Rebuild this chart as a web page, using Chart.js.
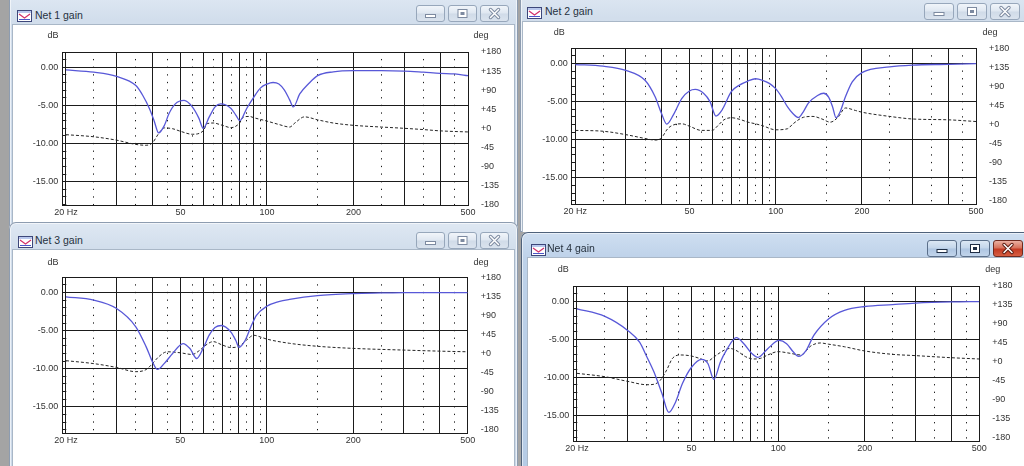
<!DOCTYPE html>
<html>
<head>
<meta charset="utf-8">
<title>Net gain</title>
<script src="https://cdn.jsdelivr.net/npm/chart.js@4.4.1/dist/chart.umd.min.js"></script>
<style>
  html,body{margin:0;padding:0;}
  body{width:1024px;height:466px;overflow:hidden;position:relative;background:#a4a4a4;}
  .win{position:absolute;border-radius:7px 7px 0 0;overflow:hidden;
       background:linear-gradient(to bottom,#dfe8f3 0,#d2deec 26px,#cbd8e8 100%);
       box-shadow:inset 0 0 0 1px #8d9cb0,inset 0 0 0 2px rgba(255,255,255,0.6);}
  .win.active{background:linear-gradient(to bottom,#cfdff1 0,#bed2e9 26px,#b5cbe5 100%);
       box-shadow:inset 0 0 0 1px #4f627b,inset 0 0 0 2px rgba(255,255,255,0.55);}
  .content{position:absolute;background:#fff;box-shadow:0 0 0 1px #a9b7c7;}
  .title{position:absolute;font:10.5px "Liberation Sans",Arial,sans-serif;color:#26313e;white-space:nowrap;line-height:14px;height:14px;}
  .icon{position:absolute;width:15px;height:12px;}
  .btn{position:absolute;height:17px;box-sizing:border-box;border:1px solid #97a7bb;border-radius:3px;
       background:linear-gradient(to bottom,#f1f5fa 0,#dfe7f1 48%,#d0dbe8 52%,#dae3ee 100%);}
  .active .btn{border-color:#5b6f8a;background:linear-gradient(to bottom,#dce7f4 0,#c3d5ea 48%,#aec5e1 52%,#c2d5eb 100%);}
  .active .btn.close{border-color:#6f2a1f;background:linear-gradient(to bottom,#eab0a2 0,#d7735d 45%,#c43b24 55%,#d65e42 100%);}
  .btn svg{position:absolute;left:-1px;top:-1px;}
  .axlbl{position:absolute;font:9px "Liberation Sans",Arial,sans-serif;color:#333;transform:translate(-50%,-50%);white-space:nowrap;}
  canvas{position:absolute;}
</style>
</head>
<body>
<script>
// ---------------- data ----------------
// Net 1
const net1Freq  = [20,25,30,35,37,39,40.5,42,44,45.6,48,51.5,55,58,60,63,66,69,75,78,80.5,85,90,95,100,105,110,115,120,123.5,130,140,150,170,200,250,300,350,400,450,500];
const net1Gain  = [-0.35,-0.65,-1.2,-2.4,-3.7,-5.4,-7.0,-8.6,-7.6,-6.1,-4.8,-4.35,-5.2,-6.7,-8.0,-6.5,-5.2,-4.8,-5.4,-6.3,-7.0,-5.4,-3.9,-2.7,-2.2,-2.0,-2.2,-3.0,-4.3,-5.2,-3.5,-2.1,-1.1,-0.6,-0.45,-0.45,-0.5,-0.65,-0.8,-0.87,-1.1];
const net1PhaseFreq = [20,25,30,35,38,40,42,44,47,50,55,60,62,65,70,75,80,83,87,90,100,110,120,125,135,150,170,200,250,300,350,400,500];
const net1Phase = [-15,-20,-28,-38,-40,-34,-12.5,1,-1,-7,-14,-6,11,12.5,7,1.5,11,27,28,25,17,9,3,12.5,27,20,12.5,7,3,0,-3,-6,-8.6];
// Net 2
const net2Freq  = [20,25,30,35,38,40,41.7,44,47,50,52.4,56,59,61.9,65,70,75,80,85,90,95,100,105,110,115,120,125,130,140,147,153,158,162.4,168,175,185,200,250,300,400,500];
const net2Gain  = [-0.13,-0.35,-0.9,-2.2,-4.4,-6.6,-7.95,-6.7,-4.6,-3.6,-3.4,-3.9,-5.0,-6.9,-6.1,-3.7,-2.8,-2.3,-2.0,-2.2,-2.6,-3.3,-4.4,-5.7,-6.6,-7.1,-6.3,-5.2,-4.2,-3.9,-4.4,-5.7,-7.1,-6.3,-4.4,-2.4,-1.2,-0.45,-0.2,-0.1,0];
const net2PhaseFreq = [20,25,30,35,38,40,42,44,47,50,55,60,63,66,70,75,80,85,90,100,110,115,125,135,145,155,165,175,190,200,250,300,400,500];
const net2Phase = [-14,-16,-24,-33,-37,-31,-10,-1,1.6,-4,-14,-14,-2,11,16,12,5.5,1.6,-3,-12.6,-10,1.6,17,19,13,5.5,17,39,33,29,19,13,11,7];
// Net 3
const net3Freq  = [20,25,30,35,38,40,41.6,44,47,51.1,54,57,60,63,66,69.5,75,78,80.1,84,88,92,100,110,120,150,200,250,300,500];
const net3Gain  = [-0.57,-1.0,-2.1,-4.5,-7.1,-9.1,-10.1,-9.3,-8.0,-6.7,-7.35,-8.66,-7.35,-5.6,-4.6,-4.33,-5.2,-6.3,-7.2,-6.3,-4.5,-3.0,-1.8,-1.2,-0.9,-0.4,-0.13,-0.05,0,0];
const net3PhaseFreq = [20,25,30,35,38,40,42,45,50,55,58,62,65,70,75,80,85,90,95,100,120,150,200,300,400,500];
const net3Phase = [-17,-24,-33,-43,-38,-24,-8,4,1.6,-2.4,6,22,28,20,14,17,31.6,43,39,34,24,17,12,8,5.5,4];
// Net 4
const net4Freq  = [20,25,30,33,35,37,39.5,41.7,44,46.5,50,54.2,57,59.8,63,66,71.6,76,81,85.1,92,100.8,107,113,117.7,125,133,150,170,200,250,300,400,500];
const net4Gain  = [-1.0,-2.0,-3.85,-5.4,-7.35,-9.3,-12.2,-14.65,-13.3,-10.85,-8.7,-7.65,-8.2,-10.3,-8.0,-6.5,-4.8,-5.6,-6.9,-7.4,-6.25,-5.16,-5.6,-6.7,-7.26,-6.5,-4.5,-2.3,-1.2,-0.7,-0.45,-0.26,-0.1,-0.05];
const net4PhaseFreq = [20,25,30,35,37,39,41,43,46,50,53,57,60,65,68,72,77,82,87,92,100,110,120,130,140,150,170,200,250,300,400,500];
const net4Phase = [-27,-35,-46,-54,-53,-43,-19,9,16.5,14,9,2.4,12.6,28,32,26,12.6,7,8.7,16.5,24.4,20.5,16.5,38,45,42,36,26,18,15,10,7];

// ---------------- axes ----------------
const gridFreqs = [20,25,30,35,40,45,50,55,60,65,70,75,80,85,90,95,100,150,200,250,300,350,400,450,500];
const solidFreqs = [20,30,40,50,60,70,80,90,100,200,300,400,500];
const freqTickValues = [20,50,100,200,500];
const freqTickLabels = ['20 Hz','50','100','200','500'];
const dbTicks = [2,1,0,-1,-2,-3,-4,-5,-6,-7,-8,-9,-10,-11,-12,-13,-14,-15,-16,-17,-18];
const dbLabelTicks = [0,-5,-10,-15];
const degTicks = [180,135,90,45,0,-45,-90,-135,-180];
const degTickLabels = ['+180','+135','+90','+45','+0','-45','-90','-135','-180'];
const freqMin = 19.42, freqMax = 500, dbMax = 2, degMax = 180, degSpanDb = 20;

// ---------------- layout (page coordinates) ----------------
const windows = [
  {title:'Net 1 gain', active:false, box:[9,-6,509,240], content:[13,25,501,205], titlePos:[35,15], iconPos:[17,8],
   btnY:5, btnX:[416,448,480], btnW:29, plot:[62.3,52,468,205], dbMin:-18.05, dbPos:[53,35], degPos:[481,35],
   series:[net1Freq,net1Gain,net1PhaseFreq,net1Phase]},
  {title:'Net 3 gain', active:false, box:[9,222,509,260], content:[13,250,501,220], titlePos:[35,240], iconPos:[18,234],
   btnY:232, btnX:[416,448,480], btnW:29, plot:[62.3,277.3,467.7,433.3], dbMin:-18.48, dbPos:[53,261.7], degPos:[481,261.7],
   series:[net3Freq,net3Gain,net3PhaseFreq,net3Phase]},
  {title:'Net 2 gain', active:false, box:[520,-8,520,240], content:[523,22,507,210], titlePos:[545,11], iconPos:[527,5],
   btnY:3, btnX:[924,957,990], btnW:30, plot:[571.7,48.3,976,204], dbMin:-18.44, dbPos:[559.3,32], degPos:[990,32],
   series:[net2Freq,net2Gain,net2PhaseFreq,net2Phase]},
  {title:'Net 4 gain', active:true, box:[521,232,520,260], content:[528,258,500,215], titlePos:[547,248], iconPos:[531,242],
   btnY:240, btnX:[927,960,993], btnW:30, plot:[573.3,286,979.3,441], dbMin:-18.41, dbPos:[563.3,269.3], degPos:[992.7,269.3],
   series:[net4Freq,net4Gain,net4PhaseFreq,net4Phase]}
];

const LINE = '#1b1b1b';
const TXT = '#333';
Chart.defaults.font.family = '"Liberation Sans", Arial, sans-serif';
Chart.defaults.font.size = 9;
Chart.defaults.color = TXT;

function iconSvg(){
  return '<svg width="15" height="12" viewBox="0 0 15 12"><rect x="0.5" y="0.5" width="14" height="11" fill="#fff" stroke="#3d477a"/>'+
    '<rect x="1" y="1" width="13" height="2" fill="#b9c8ee"/>'+
    '<polyline points="2,4 7.5,8 13,4" fill="none" stroke="#d2306a" stroke-width="1.2"/>'+
    '<line x1="2" y1="9.5" x2="13" y2="9.5" stroke="#4a56c8" stroke-width="1"/></svg>';
}
function btnSvg(kind, w, active){
  const h = 17, c = w/2;
  const out = active ? (kind==='close' ? '#5a1a10' : '#1f2e45') : '#7d8aa0';
  let s = '<svg width="'+w+'" height="'+h+'" viewBox="0 0 '+w+' '+h+'">';
  if (kind==='min') s += '<rect x="'+(c-5)+'" y="9.5" width="10" height="3" fill="#fff" stroke="'+out+'"/>';
  if (kind==='max') s += '<rect x="'+(c-4.5)+'" y="4.5" width="9" height="8" fill="#fff" stroke="'+out+'"/><rect x="'+(c-2)+'" y="7" width="4" height="3" fill="'+out+'"/>';
  if (kind==='close'){
    s += '<path d="M'+(c-4)+',4.5 L'+(c+4)+',12.5 M'+(c+4)+',4.5 L'+(c-4)+',12.5" stroke="'+out+'" stroke-width="3.4" stroke-linecap="round"/>';
    s += '<path d="M'+(c-4)+',4.5 L'+(c+4)+',12.5 M'+(c+4)+',4.5 L'+(c-4)+',12.5" stroke="#fff" stroke-width="1.5" stroke-linecap="round"/>';
  }
  return s + '</svg>';
}

function makeWindow(w){
  const [bx, by, bw, bh] = w.box;
  const win = document.createElement('div');
  win.className = 'win' + (w.active ? ' active' : '');
  Object.assign(win.style, {left:bx+'px', top:by+'px', width:bw+'px', height:bh+'px'});
  document.body.appendChild(win);
  const rel = (x, y) => [x - bx, y - by];

  const ic = document.createElement('div');
  ic.className = 'icon';
  const [ix, iy] = rel(w.iconPos[0], w.iconPos[1]);
  ic.style.left = ix+'px'; ic.style.top = iy+'px';
  ic.innerHTML = iconSvg();
  win.appendChild(ic);

  const t = document.createElement('div');
  t.className = 'title';
  const [tx, ty] = rel(w.titlePos[0], w.titlePos[1]);
  t.style.left = tx+'px'; t.style.top = (ty-7)+'px';
  t.textContent = w.title;
  win.appendChild(t);

  ['min','max','close'].forEach((k, i) => {
    const b = document.createElement('div');
    b.className = 'btn' + (k==='close' ? ' close' : '');
    const [bxr, byr] = rel(w.btnX[i], w.btnY);
    Object.assign(b.style, {left:bxr+'px', top:byr+'px', width:w.btnW+'px'});
    b.innerHTML = btnSvg(k, w.btnW, w.active);
    win.appendChild(b);
  });

  const [cx, cy, cw, ch] = w.content;
  const content = document.createElement('div');
  content.className = 'content';
  const [cxr, cyr] = rel(cx, cy);
  Object.assign(content.style, {left:cxr+'px', top:cyr+'px', width:cw+'px', height:ch+'px'});
  win.appendChild(content);

  const canvas = document.createElement('canvas');
  canvas.width = cw; canvas.height = ch;
  canvas.style.left = '0px'; canvas.style.top = '0px';
  canvas.style.width = cw+'px'; canvas.style.height = ch+'px';
  content.appendChild(canvas);

  [['dB', w.dbPos], ['deg', w.degPos]].forEach(([txt, p]) => {
    const d = document.createElement('div');
    d.className = 'axlbl';
    d.style.left = (p[0]-cx)+'px'; d.style.top = (p[1]-cy)+'px';
    d.textContent = txt;
    content.appendChild(d);
  });

  buildChart(canvas, w);
}

function buildChart(canvas, w){
  const [cx, cy, cw, ch] = w.content;
  const [L, T, R, B] = w.plot;
  const dbMin = w.dbMin;
  const degMin = degMax - (dbMax - dbMin) * (360 / degSpanDb);
  const [fG, gG, fP, gP] = w.series;
  const gainPts = fG.map((f, i) => ({x:f, y:gG[i]}));
  const phasePts = fP.map((f, i) => ({x:f, y:gP[i]}));

  new Chart(canvas, {
    type:'line',
    data:{datasets:[
      {label:'gain', data:gainPts, yAxisID:'y', borderColor:'#5858d8', borderWidth:1.3,
       pointRadius:0, cubicInterpolationMode:'monotone', fill:false},
      {label:'phase', data:phasePts, yAxisID:'y2', borderColor:'#262626', borderWidth:1,
       borderDash:[3,2], pointRadius:0, cubicInterpolationMode:'monotone', fill:false}
    ]},
    options:{
      responsive:false, animation:false, devicePixelRatio:1,
      layout:{padding:{top:T-cy, left:0, right:0, bottom:0}},
      plugins:{legend:{display:false}, tooltip:{enabled:false}},
      scales:{
        x:{
          type:'logarithmic', position:'bottom', min:freqMin, max:freqMax,
          afterBuildTicks: s => { s.ticks = gridFreqs.map(v => ({value:v})); },
          afterFit: s => { s.height = cy + ch - B; },
          ticks:{autoSkip:false, maxRotation:0, minRotation:0, padding:2, color:TXT,
            callback: v => { const i = freqTickValues.indexOf(v); return i >= 0 ? freqTickLabels[i] : ''; }},
          grid:{color:LINE, lineWidth:1, drawTicks:false},
          border:{display:true, color:LINE, width:1,
            dash: ctx => {
              if (!ctx.tick || solidFreqs.includes(ctx.tick.value)) return [];
              const y = ctx.chart.scales.y;
              const p = (y.bottom - y.top) / (y.max - y.min);
              return [1.3, Math.max(p - 1.3, 1)];
            },
            dashOffset:0.65}
        },
        y:{
          type:'linear', position:'left', min:dbMin, max:dbMax,
          afterBuildTicks: s => { s.ticks = dbTicks.map(v => ({value:v})); },
          afterFit: s => { s.width = L - cx; },
          ticks:{autoSkip:false, padding:8, color:TXT,
            callback: v => dbLabelTicks.includes(v) ? v.toFixed(2) : ''},
          grid:{
            color: ctx => (ctx.tick && (dbLabelTicks.includes(ctx.tick.value) || ctx.tick.value === dbMax)) ? LINE : 'rgba(0,0,0,0)',
            lineWidth:1, drawTicks:true, tickLength:-4, tickColor:LINE, tickWidth:1},
          border:{display:true, color:LINE, width:1}
        },
        y2:{
          type:'linear', position:'right', min:degMin, max:degMax,
          afterBuildTicks: s => { s.ticks = degTicks.map(v => ({value:v})); },
          afterFit: s => { s.width = cx + cw - R; },
          ticks:{autoSkip:false, padding:5, color:TXT,
            callback: v => { const i = degTicks.indexOf(v); return i >= 0 ? degTickLabels[i] : ''; }},
          grid:{display:false},
          border:{display:true, color:LINE, width:1}
        }
      }
    }
  });
}

windows.forEach(makeWindow);
</script>
</body>
</html>
